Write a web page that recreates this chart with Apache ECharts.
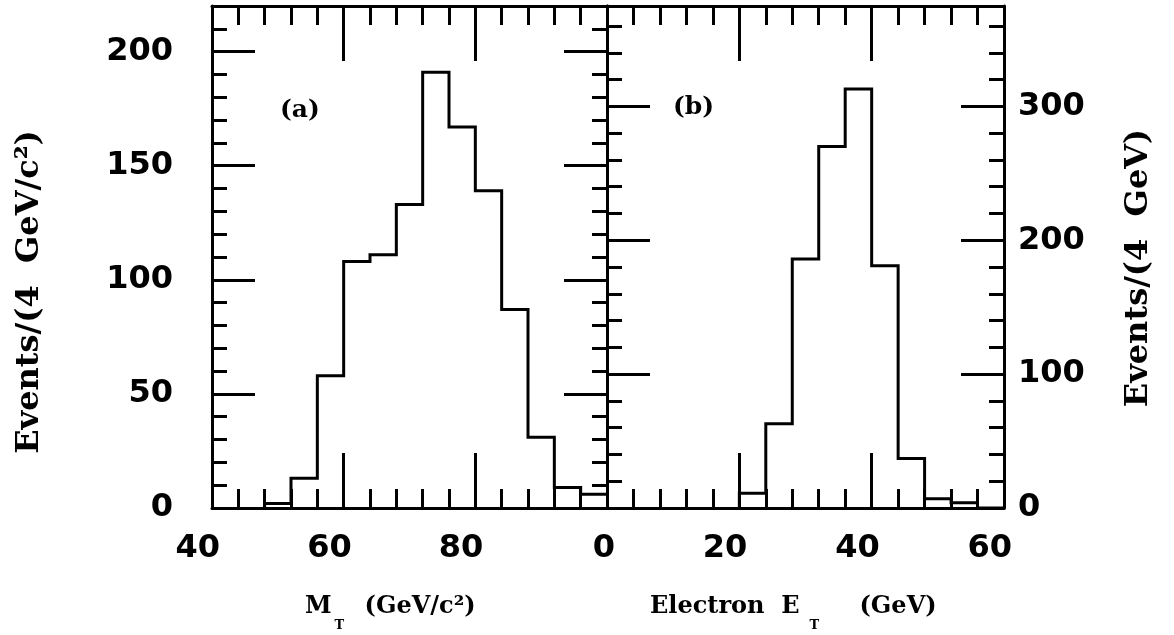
<!DOCTYPE html>
<html><head><meta charset="utf-8">
<script src="https://cdn.jsdelivr.net/npm/echarts@6/dist/echarts.min.js"></script>
<style>html,body{margin:0;padding:0;background:#fff}#c{width:1174px;height:635px}</style>
</head><body><div id="c"></div>
<script>
// ---- data ----
const binWidth = 4;
const mtBinStarts = [48, 52, 56, 60, 64, 68, 72, 76, 80, 84, 88, 92, 96];
const mtCounts    = [2, 13, 58, 108, 111, 133, 191, 167, 139, 87, 31, 9, 6];
const etBinStarts = [20, 24, 28, 32, 36, 40, 44, 48, 52, 56];
const etCounts    = [11, 63, 186, 270, 313, 181, 37, 7, 4, 0];
const mtXTickLabels = [40, 60, 80];
const etXTickLabels = [0, 20, 40, 60];
const leftYTickLabels = [0, 50, 100, 150, 200];
const rightYTickLabels = [0, 100, 200, 300];
const leftYTitle = 'Events/(4  GeV/c²)';
const rightYTitle = 'Events/(4  GeV)';
const panelA = '(a)';
const panelB = '(b)';

function stepData(starts, counts) {
  const d = [[starts[0], 0]];
  starts.forEach((s, i) => d.push([s, counts[i]]));
  d.push([starts[starts.length - 1] + binWidth, counts[counts.length - 1]]);
  return d;
}

const BLACK = '#000';
const tickFont = { color: BLACK, fontFamily: 'DejaVu Sans', fontWeight: 'bold', fontSize: 32 };
const serif = 'DejaVu Serif';

function axis(o) {
  return Object.assign({
    type: 'value',
    splitLine: { show: false },
    axisLine: { show: true, onZero: false, lineStyle: { color: BLACK, width: 3 } },
    axisTick: { show: true, inside: true, length: o.tickLen, lineStyle: { color: BLACK, width: 3 } },
    minorTick: { show: true, splitNumber: 5, length: o.minorLen, lineStyle: { color: BLACK, width: 3 } },
    minorSplitLine: { show: false },
    axisLabel: o.labels ? Object.assign({ show: true, formatter: v => o.labels.includes(v) ? String(v) : '' }, tickFont, o.labelOpt) : { show: false }
  }, o.base);
}

const xLabelOpt = { margin: 25, align: 'right', padding: [0, -8, 0, 0] };

const option = {
  backgroundColor: '#fff',
  animation: false,
  grid: [
    { left: 212, top: 6, width: 395, height: 502, outerBoundsMode: 'none' },
    { left: 607, top: 6, width: 397, height: 502, outerBoundsMode: 'none' }
  ],
  xAxis: [
    axis({ base: { gridIndex: 0, position: 'bottom', min: 40, max: 100, interval: 20 }, tickLen: 55, minorLen: 19, labels: mtXTickLabels, labelOpt: xLabelOpt }),
    axis({ base: { gridIndex: 0, position: 'top', min: 40, max: 100, interval: 20 }, tickLen: 55, minorLen: 19 }),
    axis({ base: { gridIndex: 1, position: 'bottom', min: 0, max: 60, interval: 20 }, tickLen: 55, minorLen: 19, labels: etXTickLabels, labelOpt: xLabelOpt }),
    axis({ base: { gridIndex: 1, position: 'top', min: 0, max: 60, interval: 20 }, tickLen: 55, minorLen: 19 })
  ],
  yAxis: [
    axis({ base: { gridIndex: 0, position: 'left', min: 0, max: 220, interval: 50 }, tickLen: 43, minorLen: 15, labels: leftYTickLabels, labelOpt: { margin: 39 } }),
    axis({ base: { gridIndex: 0, position: 'right', min: 0, max: 220, interval: 50 }, tickLen: 43, minorLen: 15 }),
    axis({ base: { gridIndex: 1, position: 'left', min: 0, max: 375, interval: 100 }, tickLen: 43, minorLen: 15 }),
    axis({ base: { gridIndex: 1, position: 'right', min: 0, max: 375, interval: 100 }, tickLen: 43, minorLen: 15, labels: rightYTickLabels, labelOpt: { margin: 14 } })
  ],
  series: [
    { type: 'line', xAxisIndex: 0, yAxisIndex: 0, step: 'end', symbol: 'none', data: stepData(mtBinStarts, mtCounts),
      lineStyle: { color: BLACK, width: 3, join: 'miter' } },
    { type: 'line', xAxisIndex: 2, yAxisIndex: 2, step: 'end', symbol: 'none', data: stepData(etBinStarts, etCounts),
      lineStyle: { color: BLACK, width: 3, join: 'miter' } }
  ],
  graphic: [
    { type: 'text', x: 30, y: 292, rotation: Math.PI / 2,
      style: { text: leftYTitle, fontFamily: serif, fontWeight: 'bold', fontSize: 32, fill: BLACK, align: 'center', verticalAlign: 'middle' } },
    { type: 'text', x: 1139, y: 268, rotation: Math.PI / 2,
      style: { text: rightYTitle, fontFamily: serif, fontWeight: 'bold', fontSize: 32, fill: BLACK, align: 'center', verticalAlign: 'middle' } },
    { type: 'text', x: 305, y: 607,
      style: { text: '{m|M}{s|T}{m| (GeV/c²)}', align: 'left', verticalAlign: 'middle', fill: BLACK,
        rich: {
          m: { fontFamily: serif, fontWeight: 'bold', fontSize: 24, lineHeight: 50, fill: BLACK },
          s: { fontFamily: serif, fontWeight: 'bold', fontSize: 13, lineHeight: 14, verticalAlign: 'bottom', padding: [0, 12, 0, 3], fill: BLACK }
        } } },
    { type: 'text', x: 650, y: 607,
      style: { text: '{m|Electron  E}{s|T}{m| (GeV)}', align: 'left', verticalAlign: 'middle', fill: BLACK,
        rich: {
          m: { fontFamily: serif, fontWeight: 'bold', fontSize: 24, lineHeight: 50, fill: BLACK },
          s: { fontFamily: serif, fontWeight: 'bold', fontSize: 13, lineHeight: 14, verticalAlign: 'bottom', padding: [0, 32, 0, 10], fill: BLACK }
        } } },
    { type: 'text', x: 280, y: 110,
      style: { text: panelA, fontFamily: serif, fontWeight: 'bold', fontSize: 25, fill: BLACK, align: 'left', verticalAlign: 'middle' } },
    { type: 'text', x: 673, y: 107,
      style: { text: panelB, fontFamily: serif, fontWeight: 'bold', fontSize: 25, fill: BLACK, align: 'left', verticalAlign: 'middle' } }
  ]
};

const chart = echarts.init(document.getElementById('c'), null, { renderer: 'canvas' });
chart.setOption(option);
</script>
</body></html>
